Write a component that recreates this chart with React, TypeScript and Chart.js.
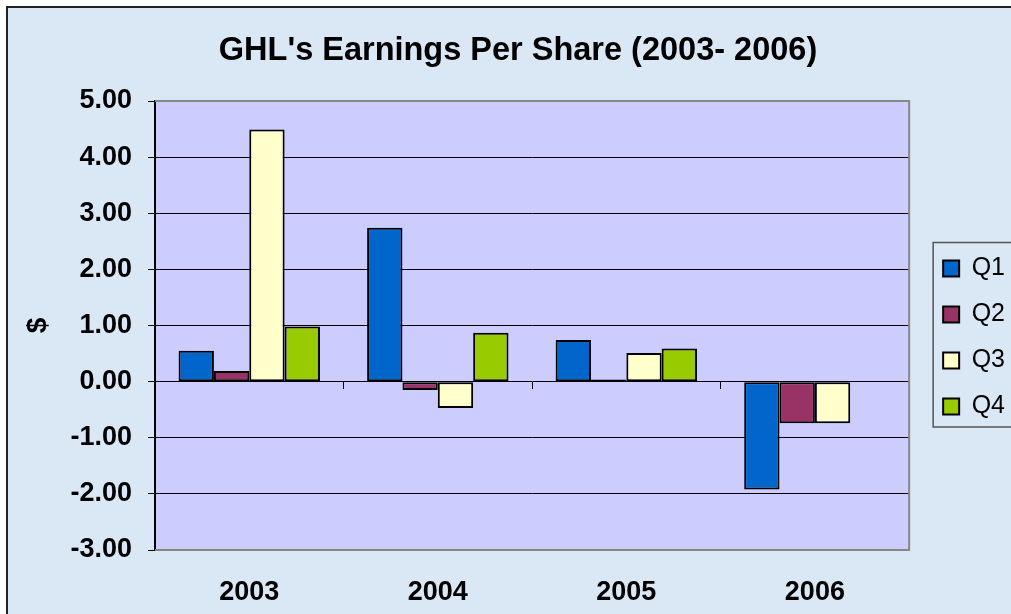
import React, { useEffect, useRef } from "react";
import { Chart, registerables } from "chart.js";

Chart.register(...registerables);

const categories = ["2003", "2004", "2005", "2006"];
const seriesNames = ["Q1", "Q2", "Q3", "Q4"];
const q1Values = [0.55, 2.74, 0.74, -1.92];
const q2Values = [0.19, -0.15, 0.04, -0.74];
const q3Values = [4.49, -0.47, 0.51, -0.74];
const q4Values = [0.98, 0.87, 0.59, null];
const seriesColors = ["#0066CC", "#993366", "#FFFFCC", "#99CC00"];
const yMin = -3;
const yMax = 5;
const yStep = 1;
const titleText = "GHL's Earnings Per Share (2003- 2006)";
const yTitle = "$";

const FONT = '"Liberation Sans", Arial, Helvetica, sans-serif';
const W = 1015;
const H = 675;

const decorPlugin = {
  id: "decor",
  beforeDraw(chart: any) {
    const { ctx, chartArea: a } = chart;
    ctx.save();
    ctx.fillStyle = "#CCCCFF";
    ctx.fillRect(a.left, a.top, a.right - a.left, a.bottom - a.top);
    ctx.restore();
  },
  afterDraw(chart: any) {
    const { ctx, chartArea: a } = chart;
    ctx.save();
    ctx.strokeStyle = "#888888";
    ctx.lineWidth = 2;
    ctx.beginPath();
    ctx.moveTo(a.left, a.top);
    ctx.lineTo(a.right, a.top);
    ctx.lineTo(a.right, a.bottom);
    ctx.lineTo(a.left, a.bottom);
    ctx.stroke();
    const lg = chart.legend;
    const hb = lg && lg.legendHitBoxes;
    if (hb && hb.length) {
      const first = hb[0];
      const last = hb[hb.length - 1];
      const left = first.left - 10;
      const top = first.top - 13.5;
      const bottom = last.top + last.height + 8;
      ctx.strokeStyle = "#555555";
      ctx.lineWidth = 1.5;
      ctx.beginPath();
      ctx.moveTo(chart.width + 10, top);
      ctx.lineTo(left, top);
      ctx.lineTo(left, bottom);
      ctx.lineTo(chart.width + 10, bottom);
      ctx.stroke();
    }
    ctx.restore();
  },
};

export default function App() {
  const canvasRef = useRef<HTMLCanvasElement | null>(null);

  useEffect(() => {
    if (!canvasRef.current) return;
    const allValues = [q1Values, q2Values, q3Values, q4Values];
    const chart = new Chart(canvasRef.current, {
      type: "bar",
      data: {
        labels: categories,
        datasets: seriesNames.map((name, i) => ({
          label: name,
          data: allValues[i] as any,
          backgroundColor: seriesColors[i],
          borderColor: "#000000",
          borderWidth: 2,
          borderSkipped: false,
          categoryPercentage: 0.75,
          barPercentage: 1.0,
        })),
      },
      options: {
        responsive: false,
        animation: false,
        devicePixelRatio: 1,
        layout: { padding: { left: 21, right: 0, top: 0, bottom: 0 } },
        plugins: {
          title: {
            display: true,
            text: titleText,
            color: "#000",
            font: { family: FONT, size: 32.5, weight: "bold" },
            padding: { top: 32, bottom: 30 },
          },
          legend: {
            display: true,
            position: "right",
            labels: {
              color: "#000",
              font: { family: FONT, size: 25 },
              boxWidth: 16,
              boxHeight: 16,
              padding: 21,
            },
          },
          tooltip: { enabled: false },
        },
        scales: {
          x: {
            type: "category",
            position: "bottom",
            offset: true,
            grid: { display: false, drawTicks: false },
            border: { display: false },
            ticks: {
              color: "#000",
              font: { family: FONT, size: 27, weight: "bold" },
              padding: 26,
              maxRotation: 0,
            },
            afterFit(s: any) {
              s.height = H - 550;
            },
          },
          xz: {
            type: "category",
            position: { y: 0 } as any,
            offset: true,
            grid: {
              display: true,
              drawOnChartArea: false,
              drawTicks: true,
              tickLength: 7,
              color: "#000",
              tickColor: "#000",
              offset: true,
              lineWidth: 1,
            },
            ticks: { display: false },
            border: { display: false },
          },
          y: {
            type: "linear",
            position: "left",
            min: yMin,
            max: yMax,
            ticks: {
              stepSize: yStep,
              color: "#000",
              font: { family: FONT, size: 27, weight: "bold" },
              padding: 16,
              callback: (v: any) => Number(v).toFixed(2),
            },
            grid: {
              color: (c: any) =>
                c.tick && (c.tick.value === yMax || c.tick.value === yMin)
                  ? "rgba(0,0,0,0)"
                  : "#000000",
              tickColor: "#000000",
              tickLength: 7,
              drawTicks: true,
              lineWidth: 1,
            },
            border: { display: true, color: "#000000", width: 2 },
            title: {
              display: true,
              text: yTitle,
              color: "#000",
              font: { family: FONT, size: 28, weight: "bold" },
              padding: { top: 0, bottom: 0 },
            },
            afterFit(s: any) {
              s.width = 155 - 21;
            },
          },
          yR: {
            type: "linear",
            position: "right",
            display: true,
            grid: { display: false, drawTicks: false },
            ticks: { display: false },
            border: { display: false },
            afterFit(s: any) {
              s.width = 13;
            },
          },
        },
      } as any,
      plugins: [decorPlugin],
    });
    return () => chart.destroy();
  }, []);

  return (
    <div
      style={{
        position: "fixed",
        left: 0,
        top: 0,
        right: 0,
        bottom: 0,
        overflow: "hidden",
        background: "#ffffff",
      }}
    >
      <div
        style={{
          position: "absolute",
          left: 6,
          top: 6,
          right: -60,
          bottom: -60,
          borderLeft: "2px solid #222",
          borderTop: "2px solid #222",
          background: "#DAE8F5",
        }}
      />
      <canvas
        ref={canvasRef}
        width={W}
        height={H}
        style={{ position: "absolute", left: 0, top: 0, width: W, height: H }}
      />
    </div>
  );
}
